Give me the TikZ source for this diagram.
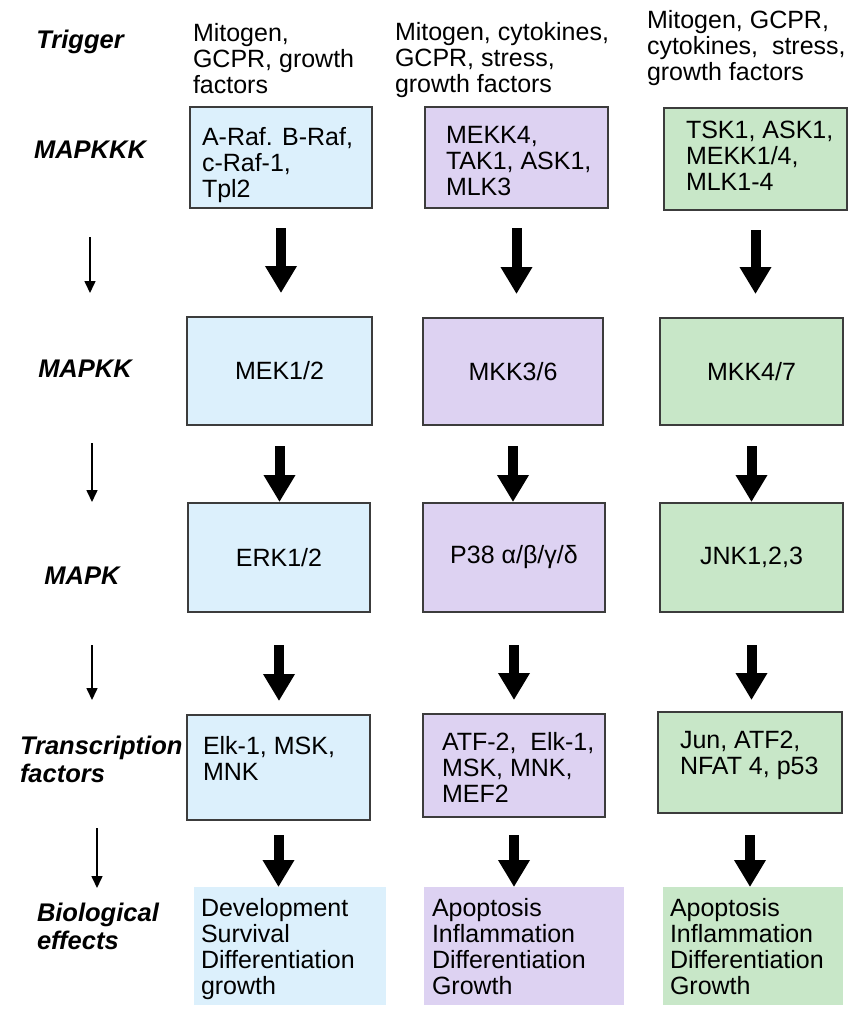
\documentclass[tikz,border=0pt]{standalone}
\usepackage{fontspec}
\setmainfont{Liberation Sans}
\usetikzlibrary{arrows.meta}
\definecolor{cblue}{RGB}{220,240,252}
\definecolor{cpurp}{RGB}{221,210,242}
\definecolor{cgreen}{RGB}{200,231,200}
\definecolor{cedge}{RGB}{60,60,60}
\begin{document}
\begin{tikzpicture}[x=1pt,y=-1pt,
  every node/.style={inner sep=0pt, outer sep=0pt},
  txt/.style={font=\fontsize{25}{26}\selectfont, align=left, anchor=north west},
  lab/.style={font=\fontsize{25.5}{28}\selectfont\bfseries\itshape, align=left},
  box/.style={draw=cedge, line width=1.5pt, rectangle, font=\fontsize{25}{26}\selectfont},
  bio/.style={rectangle},
  bigarrow/.style={line width=10pt, -{Triangle[width=30pt,length=27pt]}},
  smallarrow/.style={line width=1.6pt, -{Triangle[width=11pt,length=12pt]}}
]
\useasboundingbox[fill=white] (0,0) rectangle (853,1010);

% left labels
\node[lab] (lTrig) at (80,42) {Trigger};
\node[lab] (lKKK) at (90,150) {MAPKKK};
\node[lab] (lKK) at (85,369) {MAPKK};
\node[lab] (lK) at (82,576) {MAPK};
\node[lab, anchor=west] (lTF) at (20,759) {Transcription\\factors};
\node[lab, anchor=west] (lBio) at (37,926) {Biological\\effects};

% left arrows
\coordinate (s1a) at (90,237); \coordinate (s1b) at (90,293);
\coordinate (s2a) at (92,443); \coordinate (s2b) at (92,502);
\coordinate (s3a) at (92,645); \coordinate (s3b) at (92,700);
\coordinate (s4a) at (97,828); \coordinate (s4b) at (97,888);
\draw[smallarrow] (s1a) -- (s1b);
\draw[smallarrow] (s2a) -- (s2b);
\draw[smallarrow] (s3a) -- (s3b);
\draw[smallarrow] (s4a) -- (s4b);

% triggers
\node[txt] (tr1) at (193,23) {Mitogen,\\GCPR, growth\\factors};
\node[txt] (tr2) at (395,22) {Mitogen, cytokines,\\GCPR, stress,\\growth factors};
\node[txt] (tr3) at (647,10) {Mitogen, GCPR,\\cytokines,\ \ stress,\\growth factors};

% MAPKKK
\node[box, fill=cblue, minimum width=182pt, minimum height=101pt] (k1) at (281,157.5) {};
\node[box, fill=cpurp, minimum width=183pt, minimum height=101pt] (k2) at (516.5,157.5) {};
\node[box, fill=cgreen, minimum width=183pt, minimum height=102pt] (k3) at (755.5,159) {};
\node[txt] (k1t) at (202,127) {A-Raf. B-Raf,\\c-Raf-1,\\Tpl2};
\node[txt] (k2t) at (446,126) {MEKK4,\\TAK1, ASK1,\\MLK3};
\node[txt] (k3t) at (686,121) {TSK1, ASK1,\\MEKK1/4,\\MLK1-4};

% MAPKK
\node[box, fill=cblue, minimum width=185pt, minimum height=108pt] (m1) at (279.5,371) {MEK1/2};
\node[box, fill=cpurp, minimum width=180pt, minimum height=107pt] (m2) at (513,371.5) {MKK3/6};
\node[box, fill=cgreen, minimum width=183pt, minimum height=107pt] (m3) at (751.5,371.5) {MKK4/7};

% MAPK
\node[box, fill=cblue, minimum width=182pt, minimum height=109pt] (p1) at (279,557.5) {ERK1/2};
\node[box, fill=cpurp, minimum width=182pt, minimum height=109pt] (p2) at (514,557.5) {P38 α/β/γ/δ};
\node[box, fill=cgreen, minimum width=183pt, minimum height=109pt] (p3) at (751.5,557.5) {JNK1,2,3};

% transcription factors
\node[box, fill=cblue, minimum width=183pt, minimum height=105pt] (t1) at (278.5,767.5) {};
\node[box, fill=cpurp, minimum width=182pt, minimum height=103pt] (t2) at (514,765.5) {};
\node[box, fill=cgreen, minimum width=184pt, minimum height=101pt] (t3) at (750,762.5) {};
\node[txt] (t1t) at (203,736) {Elk-1, MSK,\\MNK};
\node[txt] (t2t) at (442,732) {ATF-2,\ \ Elk-1,\\MSK, MNK,\\MEF2};
\node[txt] (t3t) at (680,731) {Jun, ATF2,\\NFAT 4, p53};

% biological effects
\node[bio, fill=cblue, minimum width=192pt, minimum height=118pt] (e1) at (290,946) {};
\node[bio, fill=cpurp, minimum width=200pt, minimum height=118pt] (e2) at (524,946) {};
\node[bio, fill=cgreen, minimum width=180pt, minimum height=118pt] (e3) at (753,946) {};
\node[txt] (e1t) at (201,898) {Development\\Survival\\Differentiation\\growth};
\node[txt] (e2t) at (432,898) {Apoptosis\\Inflammation\\Differentiation\\Growth};
\node[txt] (e3t) at (670,898) {Apoptosis\\Inflammation\\Differentiation\\Growth};

% big arrows
\draw[bigarrow, shorten <=20pt, shorten >=24pt] (k1.south) -- (k1.south |- m1.north);
\draw[bigarrow, shorten <=20pt, shorten >=24pt] (k2.south) -- (k2.south |- m2.north);
\draw[bigarrow, shorten <=20pt, shorten >=24pt] (k3.south) -- (k3.south |- m3.north);

\draw[bigarrow, shorten <=21pt, shorten >=1pt] (m1.south) -- (m1.south |- p1.north);
\draw[bigarrow, shorten <=21pt, shorten >=1pt] (m2.south) -- (m2.south |- p2.north);
\draw[bigarrow, shorten <=21pt, shorten >=1pt] (m3.south) -- (m3.south |- p3.north);

\draw[bigarrow, shorten <=33pt, shorten >=14pt] (p1.south) -- (p1.south |- t1.north);
\draw[bigarrow, shorten <=33pt, shorten >=14pt] (p2.south) -- (p2.south |- t2.north);
\draw[bigarrow, shorten <=33pt, shorten >=12pt] (p3.south) -- (p3.south |- t3.north);

\draw[bigarrow, shorten <=15pt, shorten >=0pt] (t1.south) -- (t1.south |- e1.north);
\draw[bigarrow, shorten <=18pt, shorten >=0pt] (t2.south) -- (t2.south |- e2.north);
\draw[bigarrow, shorten <=22pt, shorten >=0pt] (t3.south) -- (t3.south |- e3.north);
\end{tikzpicture}
\end{document}
